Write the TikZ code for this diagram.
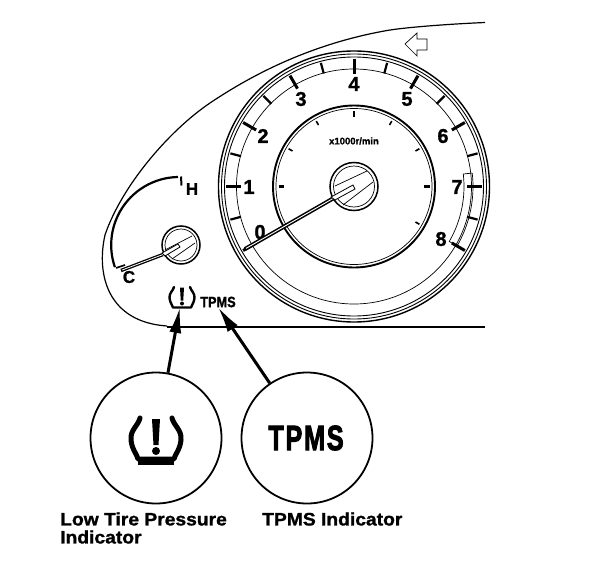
\documentclass[tikz,border=0pt]{standalone}
\usepackage{fontspec}
\setmainfont{Liberation Sans}
\newfontfamily\heavy[FakeBold=1.2]{Liberation Sans Bold}
\newfontfamily\heavier[FakeBold=3,LetterSpace=7]{Liberation Sans Bold}
\usetikzlibrary{arrows.meta}
\tikzset{
  px/.style={x=1pt,y=-1pt},
  lbl/.style={font=\fontsize{18}{18}\selectfont\heavy,inner sep=0pt,anchor=west,xscale=1.07},
  num/.style={font=\fontsize{20}{20}\selectfont\heavy,inner sep=0pt},
  bigring/.style={circle,draw,line width=1.8pt,minimum size=131pt,inner sep=0pt},
  ptr/.style={line width=3pt,-{Latex[length=26pt,width=12pt]}},
  thin/.style={line width=.7pt},
}
\newcommand{\tireicon}[4]{%
  \begin{scope}[shift={(#1,#2)},scale=#3]
    \draw[line width=#4,line cap=round,line join=round] (-16,-20) .. controls (-18,-12) and (-26,-8) .. (-25,2) .. controls (-24,12) and (-19,16) .. (-18,21) -- (18,21) .. controls (19,16) and (24,12) .. (25,2) .. controls (26,-8) and (18,-12) .. (16,-20);
    \fill (-4,-19) -- (4,-19) -- (2.5,7) -- (-2.5,7) -- cycle;
    \fill (0,13) circle (4);
  \end{scope}}
\begin{document}
\begin{tikzpicture}[px]
\useasboundingbox (0,0) rectangle (608,570);
% housing outline
\draw[line width=1.2pt] (485,22.5) .. controls (450,24) and (410,27) .. (390,30) .. controls (325,41) and (265,66) .. (210,103) .. controls (170,130) and (122,185) .. (105,235) .. controls (96,275) and (108,322) .. (167,326);
\draw[line width=2pt] (167,327) -- (485,327);
% arrow symbol
\draw[line width=.7pt] (405,44) -- (417,33) -- (417,39) -- (427,39) -- (427,50) -- (417,50) -- (417,56) -- cycle;
% tachometer
\begin{scope}[shift={(354,186.5)}]
\draw[line width=1.4pt] (0,0) circle (135.5);
\draw[line width=.9pt] (0,0) circle (132.5);
\draw[line width=.9pt] (0,0) circle (129.5);
\draw[thin] (0,0) circle (117.5);
\draw[line width=1.9pt] (0,0) circle (81);
\draw[thin] (0,0) circle (78);
\foreach \a in {210,180,150,120,90,60,30,0,-30}
  \draw[line width=3pt] (-\a:128) -- (-\a:113);
\foreach \a in {195,165,135,105,75,45,15,-15}
  \draw[line width=2.2pt] (-\a:128) -- (-\a:117);
\foreach \a in {180,90,0}
  \draw[line width=2.2pt] (-\a:75.5) -- (-\a:70);
\foreach \a in {150,120,60,30,-30}
  \draw[line width=1.6pt] (-\a:75.5) -- (-\a:71);
% red zone
\draw[thin] (-6.5:119) -- (-6.5:110) arc[start angle=-6.5,end angle=30,radius=110] -- (30:119);
\draw[thin] (-6.5:119) arc[start angle=-6.5,end angle=30,radius=119];
\fill[white] (0,0) circle (24);
\draw[line width=1.5pt] (0,0) circle (24);
\draw[thin] (0,0) circle (20.5);
\end{scope}
% tacho numbers
\node[num] (n0) at (260,232) {0};
\node[num] (n1) at (249,187) {1};
\node[num] (n2) at (263,136) {2};
\node[num] (n3) at (301,99) {3};
\node[num] (n4) at (354,84) {4};
\node[num] (n5) at (407,99) {5};
\node[num] (n6) at (443,136) {6};
\node[num] (n7) at (457,187) {7};
\node[num] (n8) at (441,239) {8};
\node[font=\fontsize{9.5}{10}\selectfont\heavy,inner sep=0pt] (unit) at (354,141) {x1000r/min};
% tacho needle
\draw[thin] (335,186) -- (367,171) (343,205) -- (373,182);
\draw[line width=4pt] (245,249) -- (333,198.5);
\draw[line width=.9pt,white] (246,248.4) -- (333,198.5);
\draw[line width=.8pt,fill=white] (331,197) -- (353,185) -- (355,189) -- (335,200) -- cycle;
% small gauge
\draw[line width=2.2pt] (178,177) arc[start angle=-91,end angle=-199,radius=68];
\draw[line width=2pt] (181,176.5) -- (181.5,185.5);
\draw[line width=1.6pt] (116,268) -- (125,265);
\begin{scope}[shift={(181,245)}]
\fill[white] (0,0) circle (19);
\draw[line width=1.5pt] (0,0) circle (19);
\draw[thin] (0,0) circle (16);
\end{scope}
\draw[thin] (165,250) -- (192,236) (172,259) -- (195,243);
\draw[line width=3.4pt] (121,270.5) -- (163,254.5);
\draw[line width=.8pt,white] (122,270.1) -- (163,254.5);
\draw[line width=.8pt,fill=white] (162,253) -- (178,244) -- (180,247) -- (165,256) -- cycle;
\node[font=\fontsize{17}{17}\selectfont\heavy,inner sep=0pt] (hot) at (192,189) {H};
\node[font=\fontsize{17}{17}\selectfont\heavy,inner sep=0pt] (cold) at (129,277) {C};
% indicators on panel
\tireicon{182}{297}{.5}{2.4pt}
\node[font=\fontsize{15}{15}\selectfont\heavy,inner sep=0pt,xscale=.85] (tp) at (218,302) {TPMS};
\coordinate (tipa) at (180,307);
\coordinate (tipb) at (218,307);
% callouts
\node[bigring] (ca) at (156,438) {};
\node[bigring] (cb) at (307,438) {};
\tireicon{156}{438}{1}{5pt}
\draw[line width=4.5pt] (138,463) -- (174,463);
\node[font=\fontsize{35}{35}\selectfont\heavier,inner sep=0pt,xscale=.72] (big) at (306,438) {TPMS};
\draw[ptr] (ca) -- (tipa);
\draw[ptr] (cb) -- (tipb);
\node[lbl] (la) at (60,519) {Low Tire Pressure};
\node[lbl] (lb) at (60,537) {Indicator};
\node[lbl] (lc) at (262,519) {TPMS Indicator};
\end{tikzpicture}
\end{document}
